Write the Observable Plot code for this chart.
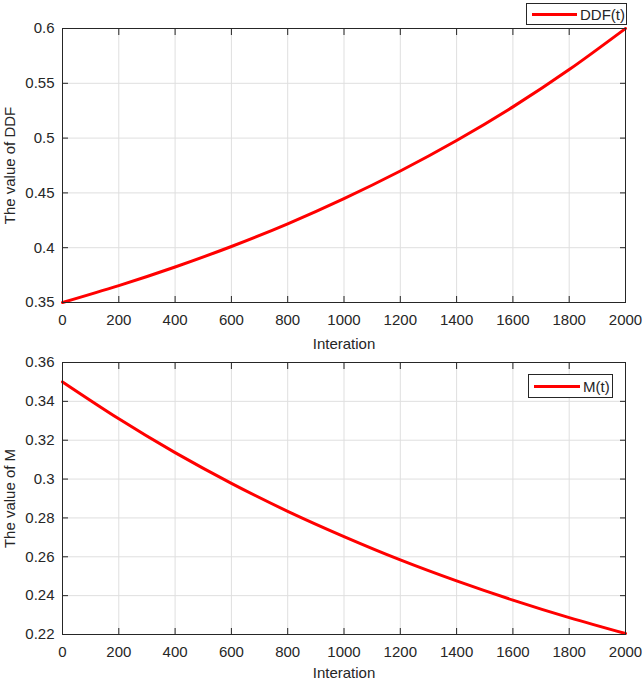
<!DOCTYPE html>
<html><head><meta charset="utf-8">
<script src="https://cdn.jsdelivr.net/npm/d3@7"></script>
<script src="https://cdn.jsdelivr.net/npm/@observablehq/plot@0.6"></script>
<style>
body{margin:0;background:#fff;font-family:"Liberation Sans",Arial,sans-serif;}
#wrap{position:relative;width:644px;height:683px;overflow:hidden;background:#fff;}
#wrap svg{display:block;position:absolute;left:0;}
.legend{position:absolute;border:1px solid #262626;background:#fff;display:flex;align-items:center;font-size:15px;color:#262626;box-sizing:border-box;}
.legend .swatch{display:inline-block;height:3px;background:#ff0000;}
</style></head><body><div id="wrap"></div>
<script>
const iterations = [0,200,400,600,800,1000,1200,1400,1600,1800,2000];
const ddfValues = [0.350,0.3654,0.3824,0.4011,0.4218,0.4448,0.4700,0.4978,0.5285,0.5625,0.600];
const mValues = [0.350,0.3310,0.3136,0.2978,0.2834,0.2704,0.2584,0.2476,0.2377,0.2287,0.2205];
const xTicks = [0,200,400,600,800,1000,1200,1400,1600,1800,2000];
const ddfTicks = [0.35,0.4,0.45,0.5,0.55,0.6];
const mTicks = [0.22,0.24,0.26,0.28,0.3,0.32,0.34,0.36];
const xLabel = "Interation";
const ddfLabel = "The value of DDF";
const mLabel = "The value of M";
const ddfLegend = "DDF(t)";
const mLegend = "M(t)";

const AX = "#262626", GRID = "#dfdfdf", RED = "#ff0000";
const fmt = d => String(d);

function panel({values, yDomain, yTicks, yLabel, height, marginTop, marginBottom, xLabelOffset}) {
  const data = iterations.map((t, i) => ({t, v: values[i]}));
  return Plot.plot({
    width: 644, height, marginLeft: 62, marginRight: 19, marginTop, marginBottom,
    style: {fontFamily: "'Liberation Sans', Arial, sans-serif", fontSize: "15px", color: AX, background: "transparent"},
    x: {domain: [0, 2000]},
    y: {domain: yDomain},
    marks: [
      Plot.gridX(xTicks, {stroke: GRID, strokeOpacity: 1}),
      Plot.gridY(yTicks, {stroke: GRID, strokeOpacity: 1}),
      Plot.axisX(xTicks, {anchor: "bottom", tickSize: 6, dy: -6, tickPadding: 12, tickFormat: fmt, label: xLabel, labelAnchor: "center", labelOffset: xLabelOffset, labelArrow: "none"}),
      Plot.axisX(xTicks, {anchor: "top", tickSize: 6, dy: 6, tickFormat: () => "", label: null}),
      Plot.axisY(yTicks, {anchor: "left", tickSize: 6, dx: 6, tickPadding: 8, tickFormat: fmt, label: yLabel, labelAnchor: "center", labelOffset: 58, labelArrow: "none"}),
      Plot.axisY(yTicks, {anchor: "right", tickSize: 6, dx: -6, tickFormat: () => "", label: null}),
      Plot.line(data, {x: "t", y: "v", stroke: RED, strokeWidth: 3, curve: "natural"}),
      Plot.frame({stroke: AX})
    ]
  });
}

const wrap = document.getElementById("wrap");
const top1 = panel({values: ddfValues, yDomain: [0.35, 0.6], yTicks: ddfTicks, yLabel: ddfLabel, height: 355, marginTop: 28, marginBottom: 53, xLabelOffset: 46});
top1.style.top = "0px";
wrap.appendChild(top1);
const bottom1 = panel({values: mValues, yDomain: [0.22, 0.36], yTicks: mTicks, yLabel: mLabel, height: 348, marginTop: 27, marginBottom: 49, xLabelOffset: 43});
bottom1.style.top = "335px";
wrap.appendChild(bottom1);

function legend(text, left, top, w, h, swL, swW) {
  const d = document.createElement("div");
  d.className = "legend";
  Object.assign(d.style, {left: left + "px", top: top + "px", width: w + "px", height: h + "px"});
  const s = document.createElement("span");
  s.className = "swatch";
  Object.assign(s.style, {marginLeft: swL + "px", width: swW + "px", marginRight: "3px"});
  const t = document.createElement("span");
  t.textContent = text;
  d.appendChild(s); d.appendChild(t);
  wrap.appendChild(d);
}
legend(ddfLegend, 526, 3, 101, 22, 5, 45);
legend(mLegend, 528, 374, 85, 24, 5, 46);
</script></body></html>
